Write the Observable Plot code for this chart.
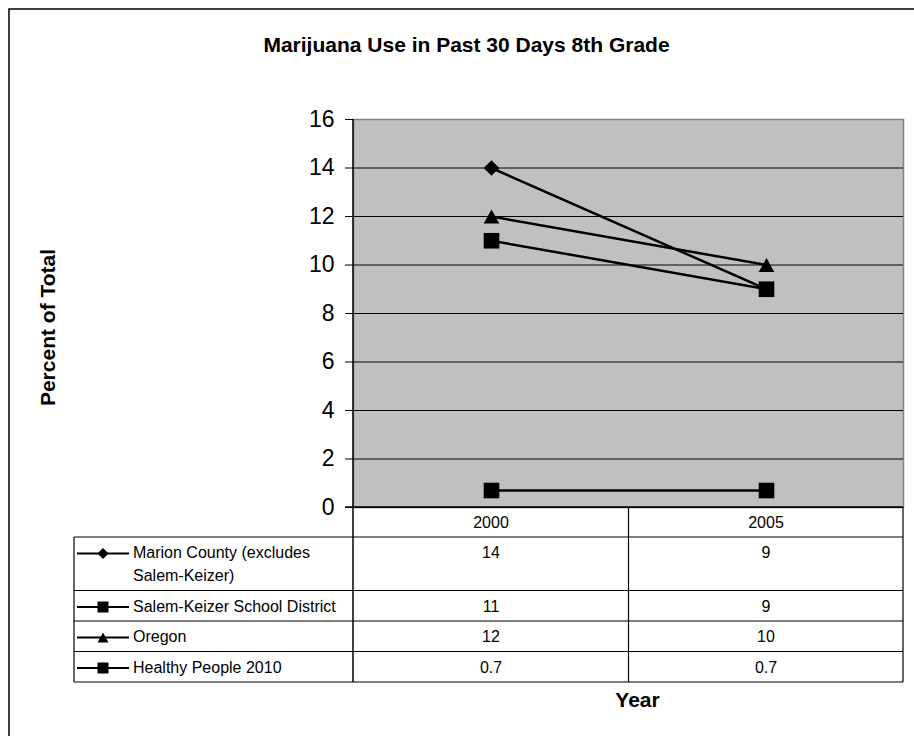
<!DOCTYPE html>
<html>
<head>
<meta charset="utf-8">
<script src="https://cdn.jsdelivr.net/npm/d3@7"></script>
<script src="https://cdn.jsdelivr.net/npm/@observablehq/plot@0.6"></script>
<style>
  html, body { margin: 0; padding: 0; background: #fff; }
  #chart { position: relative; width: 914px; height: 736px; overflow: hidden; }
  svg { font-family: "Liberation Sans", Arial, sans-serif; }
</style>
</head>
<body>
<div id="chart"></div>
<script>
// ---- data ----
const chartTitle = "Marijuana Use in Past 30 Days 8th Grade";
const yTitle = "Percent of Total";
const xTitle = "Year";
const years = ["2000", "2005"];
const seriesNames = [
  "Marion County (excludes Salem-Keizer)",
  "Salem-Keizer School District",
  "Oregon",
  "Healthy People 2010"
];
const values2000 = [14, 11, 12, 0.7];
const values2005 = [9, 9, 10, 0.7];
const seriesMarkers = ["diamond", "square", "triangle", "square"];
const yTicks = [0, 2, 4, 6, 8, 10, 12, 14, 16];

// ---- marker shapes ----
const shapes = {
  diamond: {draw(ctx, size) { const r = Math.sqrt(size / Math.PI);
    ctx.moveTo(0, -r); ctx.lineTo(r, 0); ctx.lineTo(0, r); ctx.lineTo(-r, 0); ctx.closePath(); }},
  square: {draw(ctx, size) { const r = Math.sqrt(size / Math.PI);
    ctx.moveTo(-r, -r); ctx.lineTo(r, -r); ctx.lineTo(r, r); ctx.lineTo(-r, r); ctx.closePath(); }},
  triangle: {draw(ctx, size) { const r = Math.sqrt(size / Math.PI); const h = r * 0.9;
    ctx.moveTo(0, -h); ctx.lineTo(r, h); ctx.lineTo(-r, h); ctx.closePath(); }}
};

const data = seriesNames.flatMap((s, i) => [
  {series: s, year: years[0], value: values2000[i]},
  {series: s, year: years[1], value: values2005[i]}
]);

const font = '"Liberation Sans", Arial, sans-serif';

const chart = Plot.plot({
  width: 914,
  height: 736,
  marginLeft: 353,
  marginRight: 11,
  marginTop: 119,
  marginBottom: 229,
  style: {fontFamily: font, background: "white", color: "black", overflow: "visible"},
  x: {type: "point", domain: years, padding: 0.5, axis: null},
  y: {domain: [0, 16], axis: null},
  symbol: {domain: seriesNames, range: seriesMarkers.map(m => shapes[m])},
  marks: [
    Plot.frame({fill: "#c0c0c0", stroke: "#808080", strokeWidth: 1.5}),
    Plot.gridY(yTicks.filter(d => d < 16), {stroke: "black", strokeOpacity: 1, strokeWidth: 1}),
    Plot.axisY(yTicks, {tickSize: 8, tickPadding: 11, fontSize: 23, label: null, tickFormat: d => String(d), stroke: "black"}),
    Plot.line(data, {x: "year", y: "value", z: "series", stroke: "black", strokeWidth: 2.5}),
    Plot.dot(data, {x: "year", y: "value", symbol: "series", fill: "black", stroke: "none", r: 7.8}),
    Plot.text([chartTitle], {frameAnchor: "top", dx: -162, dy: -74, fontSize: 21, fontWeight: "bold", lineAnchor: "middle", fill: "black"}),
    Plot.text([yTitle], {frameAnchor: "left", dx: -305, dy: 14, rotate: -90, fontSize: 21, fontWeight: "bold", lineAnchor: "middle", textAnchor: "middle", fill: "black"}),
    Plot.text([xTitle], {frameAnchor: "bottom", dx: 9, dy: 193, fontSize: 21, fontWeight: "bold", lineAnchor: "middle", fill: "black"})
  ]
});

document.getElementById("chart").appendChild(chart);

// ---- data table under the plot, positioned from the plot's scales ----
const svg = d3.select(chart);
const xs = chart.scale("x");
const ys = chart.scale("y");
const left = xs.range[0], right = xs.range[1];
const mid = (xs.apply(years[0]) + xs.apply(years[1])) / 2;
const top0 = ys.apply(16), y0 = ys.apply(0);
const tableLeft = 74;
const headerH = 30;
const rowH = 30.5, lineH = 23;
const textX = 133;
const maxLabelW = 216;
const fs = 16;

const g = svg.append("g").attr("font-family", font).attr("fill", "black").attr("text-anchor", "start");

// wrap labels by measurement
function wrap(label) {
  const t = g.append("text").attr("font-size", fs);
  const words = label.split(" ");
  const lines = [];
  let cur = "";
  for (const w of words) {
    const test = cur ? cur + " " + w : w;
    t.text(test);
    if (cur && t.node().getComputedTextLength() > maxLabelW) { lines.push(cur); cur = w; }
    else cur = test;
  }
  if (cur) lines.push(cur);
  t.remove();
  return lines;
}

// header texts
years.forEach(yr => {
  g.append("text").attr("x", xs.apply(yr)).attr("y", y0 + 20.5)
    .attr("text-anchor", "middle").attr("font-size", fs).text(yr);
});

let rowTop = y0 + headerH;
const rowTops = [rowTop];
seriesNames.forEach((name, i) => {
  const lines = wrap(name);
  const h = rowH + (lines.length - 1) * lineH;
  // legend key
  const ky = rowTop + 16.5;
  g.append("line").attr("x1", 77).attr("x2", 129).attr("y1", ky).attr("y2", ky)
    .attr("stroke", "black").attr("stroke-width", 2);
  g.append("path").attr("transform", `translate(103,${ky})`)
    .attr("d", d3.symbol(shapes[seriesMarkers[i]], Math.PI * 5.5 * 5.5)());
  lines.forEach((ln, j) => {
    g.append("text").attr("x", textX).attr("y", rowTop + 21 + j * lineH)
      .attr("text-anchor", "start").attr("font-size", fs).text(ln);
  });
  g.append("text").attr("x", xs.apply(years[0])).attr("y", rowTop + 21)
    .attr("text-anchor", "middle").attr("font-size", fs).text(String(values2000[i]));
  g.append("text").attr("x", xs.apply(years[1])).attr("y", rowTop + 21)
    .attr("text-anchor", "middle").attr("font-size", fs).text(String(values2005[i]));
  rowTop += h;
  rowTops.push(rowTop);
});
const tableBottom = rowTop;

const lg = svg.append("g").attr("stroke", "black").attr("stroke-width", 1.2).attr("fill", "none");
// horizontal lines
lg.append("line").attr("x1", left - 8).attr("x2", right).attr("y1", y0).attr("y2", y0).attr("stroke-width", 1.5);
rowTops.forEach(t => lg.append("line").attr("x1", tableLeft).attr("x2", right).attr("y1", t).attr("y2", t));
// vertical lines
lg.append("line").attr("x1", left).attr("x2", left).attr("y1", top0).attr("y2", tableBottom).attr("stroke-width", 1.5);
lg.append("line").attr("x1", mid).attr("x2", mid).attr("y1", y0).attr("y2", tableBottom);
lg.append("line").attr("x1", right).attr("x2", right).attr("y1", y0).attr("y2", tableBottom);
lg.append("line").attr("x1", tableLeft).attr("x2", tableLeft).attr("y1", rowTops[0]).attr("y2", tableBottom);
// outer chart border (left and top visible)
lg.append("path").attr("d", `M9,${736 + 20} L9,9 L${914 + 20},9`).attr("stroke-width", 1.5);
</script>
</body>
</html>
